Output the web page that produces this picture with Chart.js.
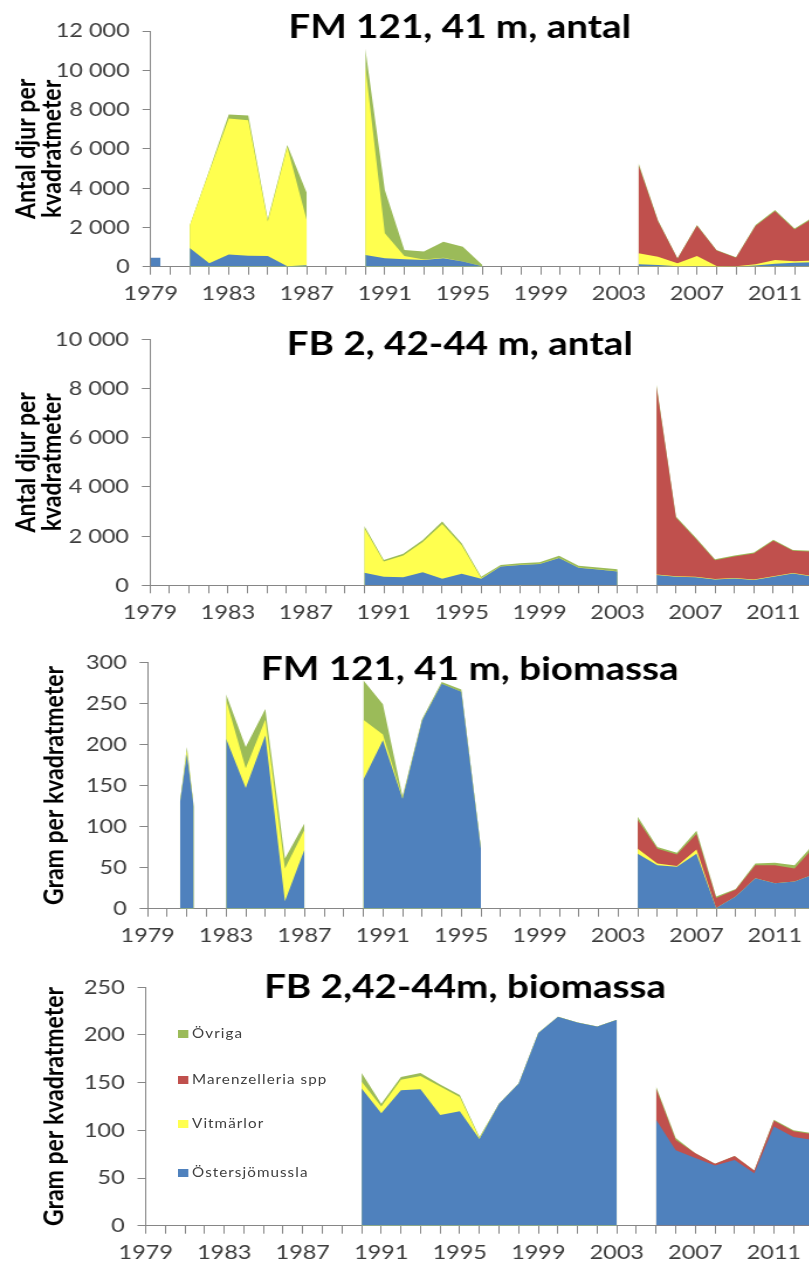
<!DOCTYPE html>
<html>
<head>
<meta charset="utf-8">
<title>Bottenfauna FM 121 och FB 2</title>
<script src="https://cdn.jsdelivr.net/npm/chart.js@4.4.1/dist/chart.umd.min.js"></script>
<style>
  html, body { margin: 0; padding: 0; background: #fff; }
  body { width: 809px; height: 1272px; overflow: hidden; position: relative; font-family: Lato, "Open Sans", sans-serif; }
  .panel { position: absolute; left: 0; transform-origin: 0 0; }
  .panel canvas { display: block; }
  .legend { position: absolute; left: 0; top: 0; }
  .legend .item { position: absolute; white-space: nowrap; font: 13px Lato, sans-serif; color: #404040; letter-spacing: 0.9px; line-height: 14px; }
  .legend .swatch { display: inline-block; width: 9px; height: 8px; margin-right: 3px; vertical-align: 0px; }
</style>
</head>
<body>
<div class="panel" id="panel1"><canvas id="chart1"></canvas></div>
<div class="panel" id="panel2"><canvas id="chart2"></canvas></div>
<div class="panel" id="panel3"><canvas id="chart3"></canvas></div>
<div class="panel" id="panel4"><canvas id="chart4"></canvas><div class="legend" id="legend"></div></div>

<script>
// ---- Series (stacking order bottom -> top) ----
const seriesNames  = ['Östersjömussla', 'Vitmärlor', 'Marenzelleria spp', 'Övriga'];
const seriesColors = ['#4F81BD', '#FFFF4F', '#C0504D', '#9BBB59'];

// ---- FM 121, 41 m, antal (individer per m²) ----
const fmAntalYears = [1979, 1979.5, 1980, 1981, 1982, 1983, 1984, 1985, 1986, 1987, 1988, 1989,
  1990, 1991, 1992, 1993, 1994, 1995, 1996, 1997, 1998, 1999, 2000, 2001, 2002, 2003,
  2004, 2005, 2006, 2007, 2008, 2009, 2010, 2011, 2012, 2013];
const fmAntalMussla = [450, 450, null, 950, 180, 620, 560, 540, 20, 80, null, null,
  600, 430, 380, 340, 430, 260, 20, null, null, null, null, null, null, null,
  130, 90, 20, 30, 10, 10, 60, 150, 200, 230];
const fmAntalVitmarlor = [0, 0, null, 1150, 4670, 6930, 6890, 1760, 6080, 2270, null, null,
  9600, 1270, 170, 30, 20, 10, 0, null, null, null, null, null, null, null,
  550, 420, 150, 520, 30, 10, 60, 190, 80, 80];
const fmAntalMarenzelleria = [0, 0, null, 0, 0, 0, 0, 0, 0, 0, null, null,
  0, 0, 0, 0, 0, 0, 0, null, null, null, null, null, null, null,
  4500, 1800, 230, 1530, 780, 440, 1950, 2480, 1620, 2180];
const fmAntalOvriga = [0, 0, null, 0, 50, 200, 250, 100, 100, 1400, null, null,
  900, 2200, 300, 400, 820, 750, 70, null, null, null, null, null, null, null,
  100, 60, 30, 40, 30, 20, 50, 70, 50, 60];

// ---- FB 2, 42-44 m, antal ----
const fbAntalYears = [1979, 1980, 1981, 1982, 1983, 1984, 1985, 1986, 1987, 1988, 1989,
  1990, 1991, 1992, 1993, 1994, 1995, 1996, 1997, 1998, 1999, 2000, 2001, 2002, 2003,
  2004, 2005, 2006, 2007, 2008, 2009, 2010, 2011, 2012, 2013];
const fbAntalMussla = [null, null, null, null, null, null, null, null, null, null, null,
  510, 350, 330, 530, 270, 470, 270, 760, 830, 870, 1110, 710, 640, 560,
  null, 420, 350, 330, 240, 280, 220, 350, 480, 360];
const fbAntalVitmarlor = [null, null, null, null, null, null, null, null, null, null, null,
  1820, 620, 880, 1230, 2220, 1160, 30, 10, 10, 10, 10, 10, 10, 10,
  null, 20, 20, 20, 20, 20, 20, 20, 20, 20];
const fbAntalMarenzelleria = [null, null, null, null, null, null, null, null, null, null, null,
  0, 0, 0, 0, 0, 0, 0, 0, 0, 0, 0, 0, 0, 0,
  null, 7630, 2380, 1550, 760, 870, 1050, 1440, 900, 980];
const fbAntalOvriga = [null, null, null, null, null, null, null, null, null, null, null,
  80, 60, 70, 80, 100, 80, 50, 60, 60, 60, 80, 70, 70, 80,
  null, 80, 50, 50, 40, 40, 40, 40, 40, 40];

// ---- FM 121, 41 m, biomassa (gram per m²) ----
const fmBioYears = [1979, 1980, 1980.65, 1981, 1981.35, 1982, 1983, 1984, 1985, 1986, 1987, 1988, 1989,
  1990, 1991, 1992, 1993, 1994, 1995, 1996, 1997, 1998, 1999, 2000, 2001, 2002, 2003,
  2004, 2005, 2006, 2007, 2008, 2009, 2010, 2011, 2012, 2013];
const fmBioMussla = [null, null, 130, 188, 124, null, 207, 147, 211, 9, 72, null, null,
  157, 205, 134, 229, 274, 264, 73, null, null, null, null, null, null, null,
  67, 53, 51, 67, 1, 15, 37, 31, 33, 42];
const fmBioVitmarlor = [null, null, 0, 5, 0, null, 47, 24, 19, 40, 24, null, null,
  73, 7, 1, 0, 0, 0, 0, null, null, null, null, null, null, null,
  6, 2, 1, 5, 0, 0, 0, 0, 0, 0];
const fmBioMarenzelleria = [null, null, 0, 0, 0, null, 0, 0, 0, 0, 0, null, null,
  0, 0, 0, 0, 0, 0, 0, null, null, null, null, null, null, null,
  35, 18, 14, 19, 12, 8, 16, 22, 16, 33];
const fmBioOvriga = [null, null, 0, 4, 0, null, 7, 26, 13, 12, 8, null, null,
  48, 37, 2, 2, 2, 3, 1, null, null, null, null, null, null, null,
  4, 2, 2, 4, 2, 1, 2, 3, 4, 4];

// ---- FB 2, 42-44 m, biomassa ----
const fbBioYears = fbAntalYears;
const fbBioMussla = [null, null, null, null, null, null, null, null, null, null, null,
  144, 118, 142, 143, 116, 120, 91, 128, 149, 202, 219, 213, 209, 216,
  null, 111, 79, 71, 63, 69, 55, 104, 93, 90];
const fbBioVitmarlor = [null, null, null, null, null, null, null, null, null, null, null,
  7, 7, 11, 14, 30, 15, 1, 0, 0, 0, 0, 0, 0, 0,
  null, 0, 0, 0, 0, 0, 0, 0, 0, 0];
const fbBioMarenzelleria = [null, null, null, null, null, null, null, null, null, null, null,
  0, 0, 0, 0, 0, 0, 0, 0, 0, 0, 0, 0, 0, 0,
  null, 33, 11, 5, 2, 4, 3, 6, 6, 6];
const fbBioOvriga = [null, null, null, null, null, null, null, null, null, null, null,
  9, 3, 3, 3, 2, 2, 1, 0, 0, 0, 0, 0, 0, 0,
  null, 2, 2, 0, 0, 0, 0, 1, 1, 1];

// ---- Axis settings ----
const xFirstYear = 1979, xLastYear = 2017, xLabelEvery = 4;
const antalTicks = { fm: { max: 12000, step: 2000 }, fb: { max: 10000, step: 2000 } };
const bioTicks   = { fm: { max: 300, step: 50 },   fb: { max: 250, step: 50 } };

// ---- Layout (page pixels); the panels are widened horizontally by SX ----
const SX = 1.17;
const AXIS = '#868686', TICK_TEXT = '#3c3c3c';

const panels = [
  { el: 'panel1', canvas: 'chart1', top: 0,   height: 312, width: 920, axisLeft: 150.7, yearPx: 19.51,
    plotTop: 31,   plotBottom: 266.7, titleY: 38,   title: 'FM 121, 41 m, antal',
    yTitle: ['Antal djur per', 'kvadratmeter'], yTitleCenter: 27,
    years: fmAntalYears, series: [fmAntalMussla, fmAntalVitmarlor, fmAntalMarenzelleria, fmAntalOvriga],
    yMax: antalTicks.fm.max, yStep: antalTicks.fm.step },
  { el: 'panel2', canvas: 'chart2', top: 312, height: 318, width: 920, axisLeft: 150, yearPx: 19.48,
    plotTop: 27.3, plotBottom: 273.3, titleY: 43,   title: 'FB 2, 42-44 m, antal',
    yTitle: ['Antal djur per', 'kvadratmeter'], yTitleCenter: 27,
    years: fbAntalYears, series: [fbAntalMussla, fbAntalVitmarlor, fbAntalMarenzelleria, fbAntalOvriga],
    yMax: antalTicks.fb.max, yStep: antalTicks.fb.step },
  { el: 'panel3', canvas: 'chart3', top: 630, height: 325, width: 939, axisLeft: 147.7, yearPx: 19.6,
    plotTop: 32.3, plotBottom: 278.7, titleY: 50,   title: 'FM 121, 41 m, biomassa',
    yTitle: 'Gram per kvadratmeter', yTitleCenter: 54,
    years: fmBioYears, series: [fmBioMussla, fmBioVitmarlor, fmBioMarenzelleria, fmBioOvriga],
    yMax: bioTicks.fm.max, yStep: bioTicks.fm.step },
  { el: 'panel4', canvas: 'chart4', top: 955, height: 317, width: 930, axisLeft: 145.7, yearPx: 19.63,
    plotTop: 32.3, plotBottom: 270.7, titleY: 43.3, title: 'FB 2,42-44m, biomassa',
    yTitle: 'Gram per kvadratmeter', yTitleCenter: 54,
    years: fbBioYears, series: [fbBioMussla, fbBioVitmarlor, fbBioMarenzelleria, fbBioOvriga],
    yMax: bioTicks.fb.max, yStep: bioTicks.fb.step }
];

const spaced = v => String(v).replace(/\B(?=(\d{3})+(?!\d))/g, ' ');

// Cumulative stack tops; a layer that is zero over a whole sampled stretch is left out there
function stackLayers(years, series) {
  const n = years.length;
  const run = new Array(n).fill(0);
  return series.map((values, k) => {
    const tops = values.map((v, i) => {
      if (series[0][i] === null || v === null) return null;
      run[i] += v;
      return run[i];
    });
    if (k > 0) {
      let i = 0;
      while (i < n) {
        if (tops[i] === null) { i++; continue; }
        let j = i;
        while (j < n && tops[j] !== null) j++;
        const allZero = values.slice(i, j).every(v => !v);
        if (allZero) for (let t = i; t < j; t++) tops[t] = null;
        i = j;
      }
    }
    return tops.map((y, i) => ({ x: years[i], y }));
  });
}

// Panel title drawn over the plot area
const panelTitle = {
  id: 'panelTitle',
  afterDraw(chart, args, opts) {
    const { ctx } = chart;
    ctx.save();
    ctx.font = `bold ${opts.size}px Lato, sans-serif`;
    ctx.fillStyle = '#000';
    ctx.textAlign = 'center';
    ctx.textBaseline = 'alphabetic';
    ctx.fillText(opts.text, opts.x, opts.y);
    ctx.restore();
  }
};

panels.forEach(p => {
  const wrap = document.getElementById(p.el);
  const w = Math.round(p.width / SX);
  wrap.style.top = p.top + 'px';
  wrap.style.width = w + 'px';
  wrap.style.height = p.height + 'px';
  wrap.style.transform = `scaleX(${SX})`;
  const canvas = document.getElementById(p.canvas);
  canvas.width = w; canvas.height = p.height;
  canvas.style.width = w + 'px'; canvas.style.height = p.height + 'px';

  const left = p.axisLeft / SX;
  const plotW = (xLastYear - xFirstYear) * p.yearPx / SX;
  const padRight = w - left - plotW;
  const xHeight = p.height - p.plotBottom;
  const lineH = 22;
  const yTitlePad = p.yTitleCenter / SX - lineH / 2;

  const layers = stackLayers(p.years, p.series);
  const datasets = layers.map((data, k) => ({
    label: seriesNames[k],
    data,
    backgroundColor: seriesColors[k],
    borderColor: seriesColors[k],
    borderWidth: 0,
    pointRadius: 0,
    pointHoverRadius: 0,
    tension: 0,
    fill: 'origin',
    order: k + 1
  }));

  new Chart(canvas, {
    type: 'line',
    data: { datasets },
    plugins: [panelTitle],
    options: {
      responsive: false,
      animation: false,
      events: [],
      devicePixelRatio: 1,
      layout: { padding: { top: p.plotTop, right: padRight, left: 0, bottom: 0 } },
      plugins: {
        legend: { display: false },
        tooltip: { enabled: false },
        panelTitle: { text: p.title, size: 33, x: w / 2, y: p.titleY }
      },
      scales: {
        x: {
          type: 'linear', min: xFirstYear, max: xLastYear,
          afterFit: s => { s.height = xHeight; },
          ticks: {
            stepSize: 1, autoSkip: false, maxRotation: 0, minRotation: 0, padding: 7,
            color: TICK_TEXT, font: { family: 'Lato', size: 20 },
            callback: v => ((v - xFirstYear) % xLabelEvery === 0 ? String(v) : '')
          },
          grid: { display: true, drawOnChartArea: false, drawTicks: true, tickLength: 8, color: AXIS, lineWidth: 1 },
          border: { display: true, color: AXIS, width: 1 }
        },
        y: {
          min: 0, max: p.yMax,
          afterFit: s => { s.width = left; },
          ticks: {
            stepSize: p.yStep, padding: 11, color: TICK_TEXT,
            font: { family: 'Lato', size: 20 },
            callback: v => spaced(v)
          },
          grid: { display: true, drawOnChartArea: false, drawTicks: true, tickLength: 7, color: AXIS, lineWidth: 1 },
          border: { display: true, color: AXIS, width: 1 },
          title: {
            display: true, text: p.yTitle, color: '#000',
            font: { family: 'Lato', weight: 'bold', size: 23, lineHeight: lineH / 23 },
            padding: { top: yTitlePad, bottom: 0 }
          }
        }
      }
    }
  });
});

// Legend inside the last panel, listed top layer first
const legendRows = [78.3, 124, 168.3, 216.7];
const legend = document.getElementById('legend');
[3, 2, 1, 0].forEach((k, row) => {
  const item = document.createElement('div');
  item.className = 'item';
  item.style.left = (178 / SX) + 'px';
  item.style.top = (legendRows[row] - 7) + 'px';
  const sw = document.createElement('span');
  sw.className = 'swatch';
  sw.style.background = seriesColors[k];
  item.appendChild(sw);
  item.appendChild(document.createTextNode(seriesNames[k]));
  legend.appendChild(item);
});
</script>
</body>
</html>
